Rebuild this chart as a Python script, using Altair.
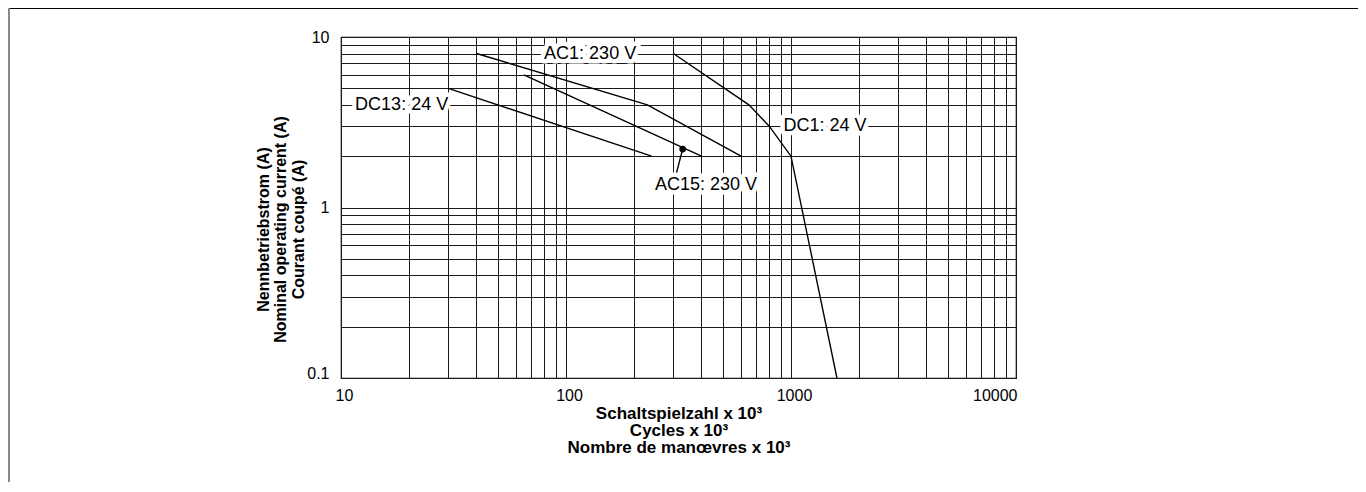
import altair as alt
import pandas as pd

# ---- data ----
ac1_x = [40, 230, 600]
ac1_y = [8, 4, 2]
ac15_x = [65, 400]
ac15_y = [6, 2]
dc13_x = [30, 240]
dc13_y = [5, 2]
dc1_x = [300, 650, 800, 1000, 1600]
dc1_y = [8, 4, 3, 2, 0.1]

dot_x = [330]
dot_y = [2.2]
leader_x = [330, 310]
leader_y = [2.2, 1.6]

label_text = ["AC1: 230 V", "DC13: 24 V", "DC1: 24 V", "AC15: 230 V"]
label_x = [128, 18.6, 1416, 419]
label_y = [8, 4, 3, 1.36]

x_ticks = [m * 10 ** e for e in range(1, 4) for m in range(1, 10)] + [10000]
y_ticks = [round(m * 10.0 ** e, 6) for e in range(-1, 1) for m in range(1, 10)] + [10]

x_title = ["Schaltspielzahl x 10³", "Cycles x 10³", "Nombre de manœvres x 10³"]
y_title = ["Nennbetriebstrom  (A)", "Nominal operating current (A)", "Courant coupé (A)"]

rows = []
for name, xs, ys in [("AC1", ac1_x, ac1_y), ("AC15", ac15_x, ac15_y),
                     ("DC13", dc13_x, dc13_y), ("DC1", dc1_x, dc1_y)]:
    for i, (a, b) in enumerate(zip(xs, ys)):
        rows.append({"series": name, "order": i, "x": a, "y": b})
df = pd.DataFrame(rows)

dot_df = pd.DataFrame({"x": dot_x, "y": dot_y})
leader_df = pd.DataFrame({"x": leader_x, "y": leader_y, "order": list(range(len(leader_x)))})
lab_df = pd.DataFrame({"text": label_text, "x": label_x, "y": label_y})

FONT = "Liberation Sans"
xscale = alt.Scale(type="log", domain=[10, 10000])
yscale = alt.Scale(type="log", domain=[0.1, 10])

pow_expr = ("abs(log(datum.value)/LN10 - round(log(datum.value)/LN10)) < 0.001 "
            "? format(datum.value, '~g') : ''")

x_axis = alt.Axis(values=x_ticks, labelExpr=pow_expr, grid=True, gridColor="#1a1a1a",
                  gridWidth=1, ticks=False, domain=False, labelFont=FONT, labelFontSize=16,
                  labelColor="black", labelPadding=9, labelOverlap=False, labelFlush=False,
                  labelBound=False,
                  labelAlign={"condition": {"test": "datum.value >= 9999", "value": "right"},
                              "value": "center"},
                  labelOffset={"condition": {"test": "datum.value >= 9999", "value": 1},
                               "value": 3},
                  title=x_title, titleFont=FONT, titleFontSize=17,
                  titleFontWeight="bold", titleColor="black", titleLineHeight=17,
                  titleX=337.5, titleY=35, titleBaseline="middle", titleAlign="center")
y_axis = alt.Axis(values=y_ticks, labelExpr=pow_expr, grid=True, gridColor="#1a1a1a",
                  gridWidth=1, ticks=False, domain=False, labelFont=FONT, labelFontSize=16,
                  labelColor="black", labelPadding=12, labelOverlap=False, labelFlush=False,
                  labelBound=False,
                  labelBaseline={"condition": {"test": "datum.value < 0.11", "value": "alphabetic"},
                                 "value": "middle"},
                  title=y_title, titleFont=FONT, titleFontSize=16,
                  titleFontWeight="bold", titleColor="black", titleLineHeight=17.5,
                  titleX=-78, titleY=192, titleBaseline="middle", titleAlign="center",
                  titleAngle=-90)

X = alt.X("x:Q", scale=xscale, axis=x_axis)
Y = alt.Y("y:Q", scale=yscale, axis=y_axis)

lines = alt.Chart(df).mark_line(color="black", strokeWidth=1.4, clip=True).encode(
    x=X, y=Y, detail="series:N", order="order:Q",
)

leader = alt.Chart(leader_df).mark_line(color="black", strokeWidth=1.4).encode(
    x=X, y=Y, order="order:Q",
)

dot = alt.Chart(dot_df).mark_circle(color="black", opacity=1, size=45).encode(x=X, y=Y)

halo = alt.Chart(lab_df).mark_text(font=FONT, fontSize=18, fill="white", stroke="white",
                                   strokeWidth=9, strokeJoin="round", align="center",
                                   baseline="middle").encode(x=X, y=Y, text="text:N")
labels = alt.Chart(lab_df).mark_text(font=FONT, fontSize=18, color="black", align="center",
                                     baseline="middle").encode(x=X, y=Y, text="text:N")

frame_top = alt.Chart(dot_df).mark_rule(color="black", strokeWidth=1).encode(
    x=alt.value(-333), x2=alt.value(1017), y=alt.value(-28.5))
frame_left = alt.Chart(dot_df).mark_rule(color="#888", strokeWidth=2).encode(
    x=alt.value(-332), y=alt.value(-29), y2=alt.value(447))

chart = alt.layer(lines, halo, labels, leader, dot, frame_top, frame_left).properties(
    width=675, height=341,
    padding={"left": 333, "top": 29, "right": 342, "bottom": 104},
    autosize=alt.AutoSizeParams(type="none"),
).configure_view(stroke="black", strokeWidth=1.2)

chart.save("out.html", embed_options={"renderer": "svg", "actions": False})
